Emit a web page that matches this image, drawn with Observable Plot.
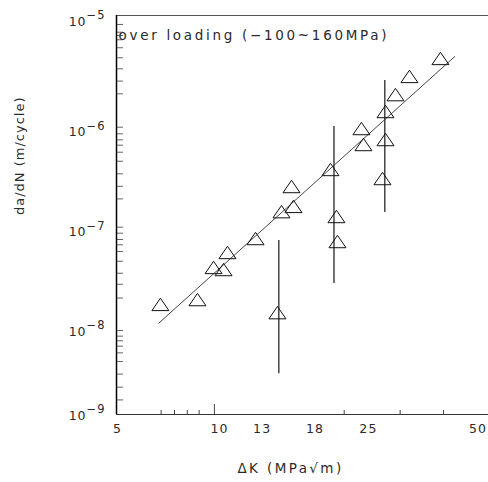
<!DOCTYPE html>
<html><head><meta charset="utf-8">
<script src="https://cdn.jsdelivr.net/npm/d3@7"></script>
<script src="https://cdn.jsdelivr.net/npm/@observablehq/plot@0.6"></script>
<style>
html,body{margin:0;padding:0;background:#fff;}
#chart{width:488px;height:482px;}
</style></head><body><div id="chart"></div>
<script>
// ---- data ----
const deltaK = [6.95, 8.73, 9.64, 10.25, 10.50, 12.48, 14.28, 14.64, 15.57, 15.76, 19.79, 20.53, 20.66, 23.94, 24.24, 27.25, 27.76, 27.76, 29.52, 32.17, 38.93];
const dadN = [1.27e-8, 1.42e-8, 2.98e-8, 2.84e-8, 4.21e-8, 5.81e-8, 1.05e-8, 1.08e-7, 1.93e-7, 1.22e-7, 2.86e-7, 9.66e-8, 5.42e-8, 7.36e-7, 5.09e-7, 2.32e-7, 5.71e-7, 1.09e-6, 1.61e-6, 2.45e-6, 3.71e-6];
const barK = [14.40, 20.22, 27.64];
const barLow = [2.56e-9, 2.06e-8, 1.06e-7];
const barHigh = [5.55e-8, 7.71e-7, 2.23e-6];
const fitK = [6.88, 42.52];
const fitRate = [8.23e-9, 3.88e-6];

const xDomain = [5.305, 52.32];
const yDomain = [1e-9, 1e-5];
const xTickValues = [5, 10, 13, 18, 25, 50];
const xMinorTicks = [6.98, 7.58, 8.20, 8.82, 21.53, 30.38, 39.66];
const xMajorTicks = [9.69];
const yTickValues = [1e-5, 1e-6, 1e-7, 1e-8, 1e-9];
const yTickLabels = ["10^\u22125", "10^\u22126", "10^\u22127", "10^\u22128", "10^\u22129"];
const yMinorTicks = [
  8.13e-6, 6.80e-6, 6.30e-6, 5.71e-6, 4.75e-6, 3.77e-6, 2.92e-6, 2.20e-6, 1.64e-6,
  7.59e-7, 6.52e-7, 5.67e-7, 5.01e-7, 4.26e-7, 3.46e-7, 2.59e-7, 1.94e-7, 1.45e-7,
  7.55e-8, 6.57e-8, 5.68e-8, 5.03e-8, 4.31e-8, 3.44e-8, 2.61e-8, 2.02e-8, 1.47e-8,
  6.95e-9, 6.10e-9, 5.48e-9, 4.84e-9, 4.15e-9, 3.40e-9, 2.54e-9, 1.88e-9, 1.40e-9
];
const titleText = "over loading (\u2212100~160MPa)";
const xTitle = "\u0394K (MPa\u221Am)";
const yTitle = "da/dN (m/cycle)";

// ---- build tables ----
const points = deltaK.map((k, i) => ({k, r: dadN[i]}));
const bars = barK.map((k, i) => ({k, lo: barLow[i], hi: barHigh[i]}));
const fit = fitK.map((k, i) => ({k, r: fitRate[i]}));
const yRows = yTickValues.map((v, i) => ({v, t: yTickLabels[i]}));

const tri = {draw(ctx) { ctx.moveTo(0, -6.2); ctx.lineTo(8.5, 6.2); ctx.lineTo(-8.5, 6.2); ctx.closePath(); }};

const W = 488, H = 482, ML = 116, MT = 15, MB = 68, MR = 0;
const fw = W - ML - MR, fh = H - MT - MB;
const txt = "#2a2a2a";
const xLab = {y: yDomain[0], dy: 14, lineAnchor: "middle", fill: txt, fontSize: 12.5};

const plot = Plot.plot({
  width: W, height: H,
  marginTop: MT, marginBottom: MB, marginLeft: ML, marginRight: MR,
  style: {fontFamily: "'DejaVu Sans', sans-serif", fontSize: "12.5px", color: txt, background: "#fff"},
  x: {type: "log", domain: xDomain, axis: null},
  y: {type: "log", domain: yDomain, axis: null},
  marks: [
    Plot.ruleY(yMinorTicks, {stroke: "#666", strokeWidth: 1, insetRight: fw - 7}),
    Plot.ruleX(xMinorTicks, {stroke: "#444", strokeWidth: 1, insetTop: fh - 4}),
    Plot.ruleX(xMajorTicks, {stroke: "#444", strokeWidth: 1, insetTop: fh - 10}),
    Plot.ruleY([yDomain[1]], {stroke: "#555", strokeWidth: 1}),
    Plot.ruleY([yDomain[0]], {stroke: "#333", strokeWidth: 1}),
    Plot.ruleX([xDomain[0]], {stroke: "#000", strokeWidth: 1.5}),
    Plot.ruleX(bars, {x: "k", y1: "lo", y2: "hi", stroke: "#444", strokeWidth: 1.5}),
    Plot.line(fit, {x: "k", y: "r", stroke: "#333", strokeWidth: 0.9}),
    Plot.dot(points, {x: "k", y: "r", symbol: tri, r: 6, stroke: "#111", fill: "none", strokeWidth: 1}),
    // x tick labels
    Plot.text(xTickValues.slice(0, 1), {...xLab, x: d => d, dx: 10.6}),
    Plot.text(xTickValues.slice(1, 5), {...xLab, x: d => d}),
    Plot.text(xTickValues.slice(5), {...xLab, x: d => d, dx: -3}),
    // y tick labels
    Plot.text(yRows.slice(0, 1), {x: xDomain[0], y: "v", text: "t", textAnchor: "end", dx: -11, dy: 6, lineAnchor: "middle", fill: txt}),
    Plot.text(yRows.slice(1, 4), {x: xDomain[0], y: "v", text: "t", textAnchor: "end", dx: -11, dy: 17, lineAnchor: "middle", fill: txt}),
    Plot.text(yRows.slice(4), {x: xDomain[0], y: "v", text: "t", textAnchor: "end", dx: -11, dy: 1, lineAnchor: "middle", fill: txt}),
    // titles
    Plot.text([titleText], {frameAnchor: "top-left", dx: 2, dy: 20, textAnchor: "start", lineAnchor: "middle", fontSize: 13.5, fill: txt}),
    Plot.text([xTitle], {frameAnchor: "bottom", dx: -12, dy: 54, lineAnchor: "middle", fontSize: 13.5, fill: txt}),
    Plot.text([yTitle], {frameAnchor: "left", dx: -97, dy: 0, rotate: -90, lineAnchor: "middle", fontSize: 13, fill: txt})
  ]
});

// superscript exponents and letter spacing (matched by text content)
const xLabSet = new Set(xTickValues.map(String));
plot.querySelectorAll("text").forEach(t => {
  const s = t.textContent;
  if (s.includes("^")) {
    const [b, e] = s.split("^");
    t.textContent = b;
    const ts = document.createElementNS("http://www.w3.org/2000/svg", "tspan");
    ts.setAttribute("dy", "-0.55em");
    ts.setAttribute("font-size", "0.92em");
    ts.textContent = e;
    t.appendChild(ts);
    t.setAttribute("letter-spacing", "1");
  } else if (xLabSet.has(s)) {
    t.setAttribute("letter-spacing", "1.2");
  } else if (s === titleText) {
    t.setAttribute("letter-spacing", "2.7");
  } else if (s === xTitle) {
    t.setAttribute("letter-spacing", "2.4");
  } else if (s === yTitle) {
    t.setAttribute("letter-spacing", "1");
  }
});

document.getElementById("chart").appendChild(plot);
</script>
</body></html>
